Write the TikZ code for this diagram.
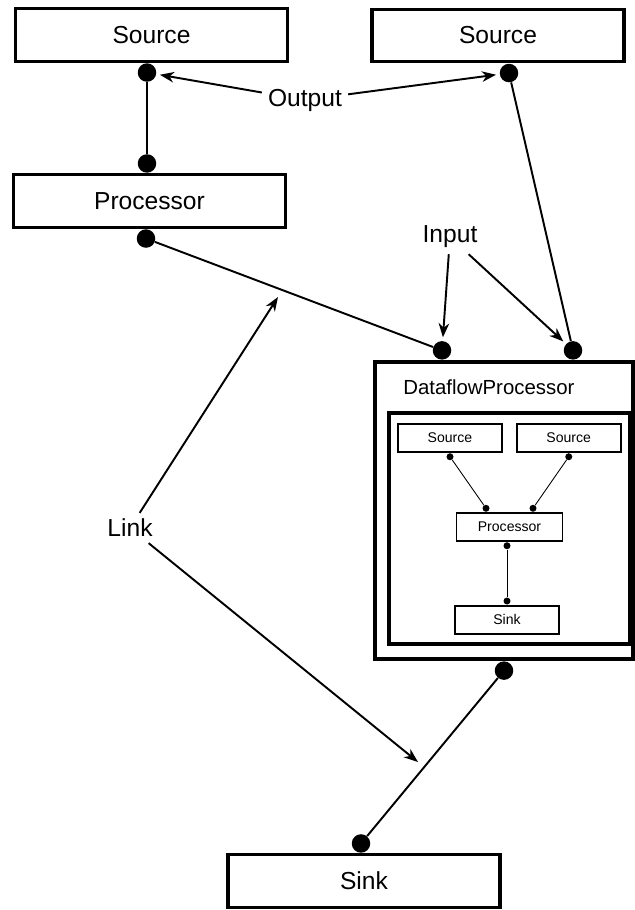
\documentclass[tikz,border=0pt]{standalone}
\usepackage{fontspec}
\setmainfont{Liberation Sans}
\usetikzlibrary{positioning,arrows.meta}

\begin{document}
\begin{tikzpicture}[
block/.style={draw,rectangle,line width=1.9pt,minimum width=5.44cm,minimum height=1.05cm,font=\fontsize{14}{16}\selectfont},
smallblock/.style={draw,rectangle,line width=1pt,minimum width=2.08cm,minimum height=0.56cm,font=\fontsize{8}{9.6}\selectfont},
bigdot/.style={circle,fill,inner sep=0pt,minimum size=0.37cm},
tinydot/.style={circle,fill,inner sep=0pt,minimum size=0.14cm},
wire/.style={line width=1.1pt},
thinwire/.style={line width=0.5pt},
pointer/.style={line width=1.1pt,-{Stealth[length=8pt,width=6pt,inset=2.5pt]},shorten >=2pt},
tag/.style={font=\fontsize{14}{16}\selectfont}]
\useasboundingbox (0,0) rectangle (12.7,-18.2);

\node (src1) [block] at (3.03,-0.70) {Source};
\node (src2) [block,minimum width=5.04cm] at (9.96,-0.71) {Source};
\node (proc) [block] at (2.99,-4.02) {Processor};
\node (dfp) [draw,rectangle,line width=2.3pt,minimum width=5.16cm,minimum height=5.94cm] at (10.08,-10.21) {};
\node (sink) [block] at (7.28,-17.62) {Sink};

\node (src1out) [bigdot,below=0pt of src1,xshift=-0.09cm] {};
\node (src2out) [bigdot,below=0pt of src2,xshift=0.22cm] {};
\node (procin) [bigdot,above=0pt of proc,xshift=-0.05cm] {};
\node (procout) [bigdot,below=0pt of proc,xshift=-0.07cm] {};
\node (dfpina) [bigdot,above=0pt of dfp.north,xshift=-1.24cm] {};
\node (dfpinb) [bigdot,above=0pt of dfp.north,xshift=1.38cm] {};
\node (dfpout) [bigdot,below=0pt of dfp.south] {};
\node (sinkin) [bigdot,above=0pt of sink,xshift=-0.06cm] {};

% inside the dataflow processor
\node (dfptitle) [anchor=west,inner sep=0pt,font=\fontsize{11.6}{14}\selectfont] at (8.06,-7.74) {DataflowProcessor};
\node (inner) [draw,rectangle,line width=2pt,minimum width=4.82cm,minimum height=4.62cm] at (10.19,-10.57) {};
\node (isrca) [smallblock] at (9.00,-8.76) {Source};
\node (isrcb) [smallblock,right=0.26cm of isrca] {Source};
\node (iproc) [smallblock,minimum width=2.12cm] at (10.19,-10.54) {Processor};
\node (isink) [smallblock,below=1.26cm of iproc,xshift=-0.05cm] {Sink};

\node (isrcaout) [tinydot,below=0pt of isrca] {};
\node (isrcbout) [tinydot,below=0pt of isrcb] {};
\node (iprocina) [tinydot,above=0pt of iproc,xshift=-0.47cm] {};
\node (iprocinb) [tinydot,above=0pt of iproc,xshift=0.47cm] {};
\node (iprocout) [tinydot,below=0pt of iproc,xshift=-0.05cm] {};
\node (isinkin) [tinydot,above=0pt of isink] {};

\draw [wire] (src1out) -- (procin);
\draw [wire] (src2out) -- (dfpinb);
\draw [wire] (procout) -- (dfpina);
\draw [wire] (dfpout) -- (sinkin);
\draw [thinwire] (isrcaout) -- (iprocina);
\draw [thinwire] (isrcbout) -- (iprocinb);
\draw [thinwire] (iprocout) -- (isinkin);

% labels
\node (output) [tag] at (6.10,-2.00) {Output};
\node (input) [tag] at (9.00,-4.74) {Input};
\node (link) [tag] at (2.60,-10.56) {Link};
\coordinate (linkup) at (5.56,-5.94);
\coordinate (linkdown) at (8.36,-15.24);

\draw [pointer] (output) -- (src1out);
\draw [pointer] (output) -- (src2out);
\draw [pointer] (input) -- (dfpina);
\draw [pointer] (input) -- (dfpinb);
\draw [pointer,shorten >=0pt] (link) -- (linkup);
\draw [pointer,shorten >=0pt] (link) -- (linkdown);

\end{tikzpicture}
\end{document}
